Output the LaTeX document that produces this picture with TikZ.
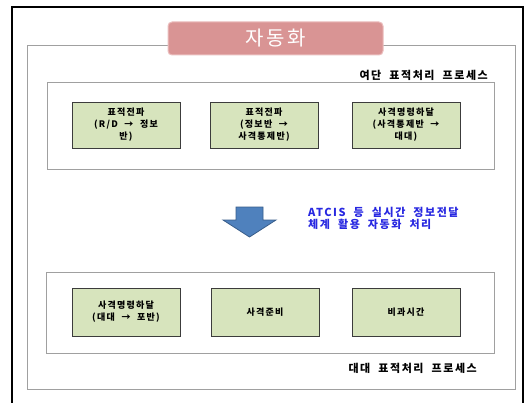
\documentclass[tikz,border=0pt]{standalone}
\usepackage{fontspec}
\newfontfamily\kr[LetterSpace=14, WordSpace=2]{Noto Sans CJK KR}
\newfontfamily\krt[LetterSpace=12]{Noto Sans CJK KR}
\definecolor{pinkfill}{RGB}{217,148,148}
\definecolor{pinkedge}{RGB}{235,190,190}
\definecolor{greenfill}{RGB}{215,228,189}
\definecolor{greenedge}{RGB}{60,60,60}
\definecolor{frame}{RGB}{160,160,160}
\definecolor{arrowfill}{RGB}{79,129,189}
\definecolor{arrowedge}{RGB}{56,93,138}
\definecolor{bluetext}{RGB}{40,40,225}
\tikzset{
  grayframe/.style={draw=frame, line width=0.8pt},
  stagebox/.style={draw=frame, line width=1pt},
  greenbox/.style={draw=greenedge, fill=greenfill, line width=0.9pt, minimum width=108pt, minimum height=46pt, inner sep=0pt, align=center, font=\kr\bfseries\fontsize{9}{12}\selectfont},
  procl/.style={anchor=east, inner sep=0pt, font=\kr\bfseries\fontsize{11}{12}\selectfont},
}
\begin{document}
\begin{tikzpicture}[x=1pt,y=-1pt]
\useasboundingbox (0,0) rectangle (526,403);
\fill[white] (0,0) rectangle (526,403);
% outer black frame
\draw[black, line width=1.2pt] (12,403) -- (12,7) -- (523,7) -- (523,403);
% gray frame
\draw[grayframe] (27,45) rectangle (515,389);
% title
\node[draw=pinkedge, fill=pinkfill, rounded corners=4pt, line width=1pt, minimum width=215pt, minimum height=33pt, inner sep=0pt, text=white, font=\krt\fontsize{20}{22}\selectfont] (title) at (275.5,38.5) {자동화};
% stage boxes
\draw[stagebox] (47,83) rectangle (494,170);
\draw[stagebox] (46,272) rectangle (494,353);
\node[procl] (lab1) at (488,75) {여단 표적처리 프로세스};
\node[procl] (lab2) at (477,368) {대대 표적처리 프로세스};
% row 1
\node[greenbox] (a1) at (126,125) {표적전파\\(R/D → 정보\\반)};
\node[greenbox] (a2) at (264,125) {표적전파\\(정보반 →\\사격통제반)};
\node[greenbox] (a3) at (406,125) {사격명령하달\\(사격통제반 →\\대대)};
% row 2
\node[greenbox, minimum height=48pt] (b1) at (126,312) {사격명령하달\\(대대 → 포반)};
\node[greenbox, minimum height=48pt] (b2) at (265,312) {사격준비};
\node[greenbox, minimum height=48pt] (b3) at (406,312) {비과시간};
% arrow
\draw[fill=arrowfill, draw=arrowedge, line width=0.8pt, line join=miter]
  (236,207) -- (263,207) -- (263,220) -- (276,220) -- (249.5,237) -- (223,220) -- (236,220) -- cycle;
% blue text
\node[anchor=west, inner sep=0pt, align=left, text=bluetext, font=\kr\bfseries\fontsize{11}{11.5}\selectfont] (note) at (308,218.5) {ATCIS 등 실시간 정보전달\\체계 활용 자동화 처리};
\end{tikzpicture}
\end{document}
